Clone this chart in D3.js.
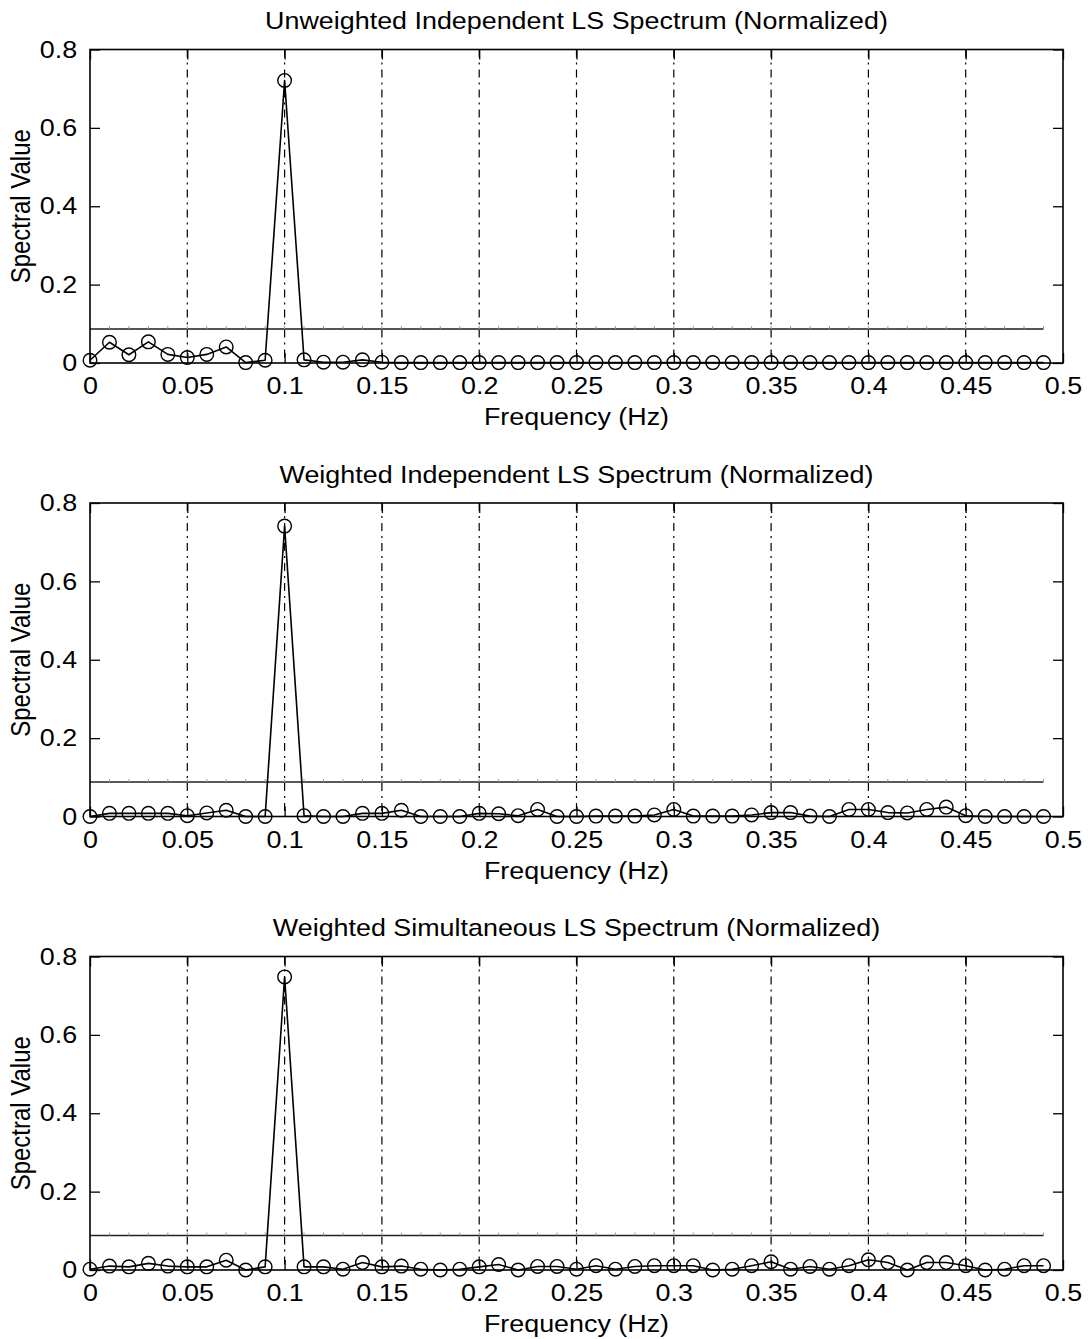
<!DOCTYPE html>
<html>
<head>
<meta charset="utf-8">
<script src="https://cdn.jsdelivr.net/npm/d3@7"></script>
<style>
  body { margin: 0; background: #fff; }
  svg { display: block; }
  text { font-family: "Liberation Sans", Arial, Helvetica, sans-serif; fill: #000; }
</style>
</head>
<body>
<div id="chart"></div>
<script>
// frequency bins (Hz)
const freqs = [0, 0.01, 0.02, 0.03, 0.04, 0.05, 0.06, 0.07, 0.08, 0.09,
  0.1, 0.11, 0.12, 0.13, 0.14, 0.15, 0.16, 0.17, 0.18, 0.19,
  0.2, 0.21, 0.22, 0.23, 0.24, 0.25, 0.26, 0.27, 0.28, 0.29,
  0.3, 0.31, 0.32, 0.33, 0.34, 0.35, 0.36, 0.37, 0.38, 0.39,
  0.4, 0.41, 0.42, 0.43, 0.44, 0.45, 0.46, 0.47, 0.48, 0.49];

const unweightedIndep = [0.007, 0.053, 0.021, 0.054, 0.022, 0.014, 0.022, 0.041, 0.001, 0.007,
  0.721, 0.008, 0.002, 0.002, 0.008, 0.002, 0.001, 0.001, 0.001, 0.001,
  0.001, 0.001, 0.001, 0.001, 0.001, 0.001, 0.001, 0.001, 0.001, 0.001,
  0.001, 0.001, 0.001, 0.001, 0.001, 0.001, 0.001, 0.001, 0.001, 0.001,
  0.001, 0.001, 0.001, 0.001, 0.001, 0.001, 0.001, 0.001, 0.001, 0.001];

const weightedIndep = [0.000, 0.008, 0.008, 0.008, 0.008, 0.002, 0.009, 0.016, 0.000, 0.000,
  0.741, 0.002, 0.000, 0.000, 0.008, 0.008, 0.016, 0.000, 0.000, 0.000,
  0.008, 0.007, 0.002, 0.018, 0.000, 0.000, 0.001, 0.001, 0.001, 0.004,
  0.018, 0.001, 0.001, 0.001, 0.004, 0.010, 0.010, 0.001, 0.000, 0.018,
  0.018, 0.010, 0.009, 0.018, 0.024, 0.002, 0.000, 0.000, 0.000, 0.000];

const weightedSimul = [0.002, 0.010, 0.008, 0.017, 0.010, 0.008, 0.008, 0.025, 0.000, 0.008,
  0.748, 0.008, 0.008, 0.002, 0.019, 0.008, 0.010, 0.002, 0.000, 0.002,
  0.008, 0.014, 0.000, 0.009, 0.009, 0.002, 0.011, 0.002, 0.009, 0.011,
  0.011, 0.011, 0.000, 0.002, 0.011, 0.021, 0.002, 0.009, 0.002, 0.011,
  0.026, 0.019, 0.000, 0.019, 0.019, 0.011, 0.000, 0.002, 0.011, 0.011];

// significance threshold drawn across each panel
const thresholds = [0.087, 0.088, 0.088];

const titles = [
  "Unweighted Independent LS Spectrum (Normalized)",
  "Weighted Independent LS Spectrum (Normalized)",
  "Weighted Simultaneous LS Spectrum (Normalized)"
];
const series = [unweightedIndep, weightedIndep, weightedSimul];

const xTicks = [0, 0.05, 0.1, 0.15, 0.2, 0.25, 0.3, 0.35, 0.4, 0.45, 0.5];
const yTicks = [0, 0.2, 0.4, 0.6, 0.8];

const W = 1089, H = 1339;
const left = 90, right = 1063;
const top0 = 49.5, plotH = 313.5, step = 453.5;
const fs = 24, sx = 1.12; // source figure is slightly stretched horizontally
const fmt = (d) => String(+d.toFixed(2));

const svg = d3.select("#chart").append("svg")
  .attr("width", W).attr("height", H);
svg.append("rect").attr("width", W).attr("height", H).attr("fill", "#fff");

const x = d3.scaleLinear().domain([0, 0.5]).range([left, right]);

series.forEach((vals, p) => {
  const top = top0 + p * step;
  const bottom = top + plotH;
  const y = d3.scaleLinear().domain([0, 0.8]).range([bottom, top]);
  const g = svg.append("g").attr("class", "panel");

  // vertical dash-dot grid
  g.append("g").selectAll("line")
    .data(xTicks.slice(1, -1))
    .join("line")
    .attr("x1", (d) => x(d)).attr("x2", (d) => x(d))
    .attr("y1", top).attr("y2", bottom)
    .attr("stroke", "#000").attr("stroke-width", 1.2)
    .attr("stroke-dasharray", "8,5,2,5");

  // threshold line
  const thrY = y(thresholds[p]);
  g.append("line")
    .attr("x1", x(freqs[0])).attr("x2", x(freqs[freqs.length - 1]))
    .attr("y1", thrY).attr("y2", thrY)
    .attr("stroke", p === 0 ? "#555" : "#222")
    .attr("stroke-width", p === 0 ? 2 : 1.3);
  g.append("g").selectAll("line")
    .data(freqs.slice(1))
    .join("line")
    .attr("x1", (d) => x(d)).attr("x2", (d) => x(d))
    .attr("y1", thrY - 3).attr("y2", thrY)
    .attr("stroke", "#999").attr("stroke-width", 1);

  // axes with inward ticks
  const bottomAxis = g.append("g")
    .attr("transform", `translate(0,${bottom})`)
    .call(d3.axisBottom(x).tickValues(xTicks).tickFormat(fmt)
      .tickSizeInner(-10).tickSizeOuter(0).tickPadding(14));
  const leftAxis = g.append("g")
    .attr("transform", `translate(${left},0)`)
    .call(d3.axisLeft(y).tickValues(yTicks).tickFormat(fmt)
      .tickSizeInner(-10).tickSizeOuter(0).tickPadding(11.5));
  g.append("g")
    .attr("transform", `translate(0,${top})`)
    .call(d3.axisTop(x).tickValues(xTicks).tickFormat("")
      .tickSizeInner(-10).tickSizeOuter(0));
  g.append("g")
    .attr("transform", `translate(${right},0)`)
    .call(d3.axisRight(y).tickValues(yTicks).tickFormat("")
      .tickSizeInner(-10).tickSizeOuter(0));

  g.selectAll(".domain").remove();
  g.selectAll(".tick line").attr("stroke", "#000").attr("stroke-width", 1.3);
  [bottomAxis, leftAxis].forEach((a) => {
    a.attr("font-size", fs).attr("font-family", null);
    a.selectAll("text").attr("transform", `scale(${sx},1)`);
  });

  // frame
  g.append("rect")
    .attr("x", left).attr("y", top)
    .attr("width", right - left).attr("height", plotH)
    .attr("fill", "none").attr("stroke", "#000").attr("stroke-width", 1.6);

  // spectrum
  const pts = freqs.map((f, i) => ({ f, v: vals[i] }));
  g.append("path")
    .datum(pts)
    .attr("fill", "none")
    .attr("stroke", "#000")
    .attr("stroke-width", 1.6)
    .attr("stroke-linejoin", "round")
    .attr("d", d3.line().x((d) => x(d.f)).y((d) => y(d.v)));
  g.append("g").selectAll("circle")
    .data(pts)
    .join("circle")
    .attr("cx", (d) => x(d.f)).attr("cy", (d) => y(d.v))
    .attr("r", 6.8)
    .attr("fill", "none").attr("stroke", "#000").attr("stroke-width", 1.4);

  // labels
  const cx = (left + right) / 2;
  g.append("text")
    .attr("transform", `translate(${cx},${top - 20.5}) scale(${sx},1)`)
    .attr("text-anchor", "middle").attr("font-size", fs)
    .text(titles[p]);
  g.append("text")
    .attr("transform", `translate(${cx},${bottom + 62}) scale(${sx},1)`)
    .attr("text-anchor", "middle").attr("font-size", fs)
    .text("Frequency (Hz)");
  g.append("text")
    .attr("transform", `translate(30,${(top + bottom) / 2}) scale(${sx},1) rotate(-90)`)
    .attr("text-anchor", "middle").attr("font-size", fs)
    .text("Spectral Value");
});
</script>
</body>
</html>
